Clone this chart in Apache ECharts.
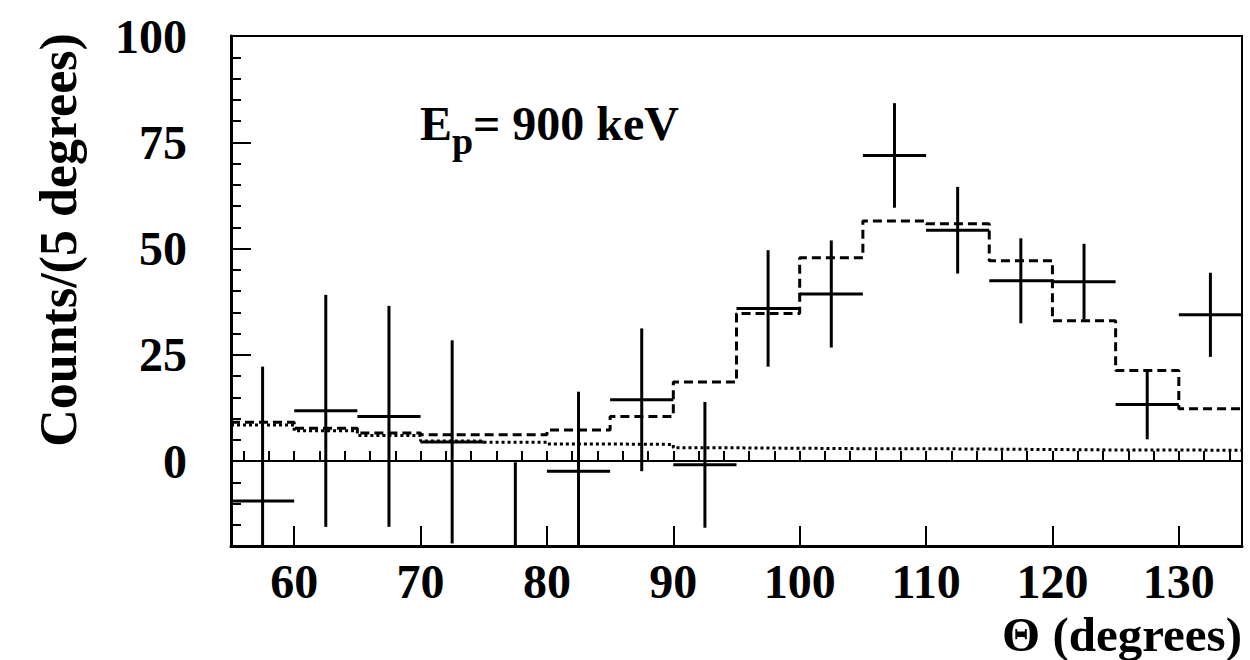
<!DOCTYPE html>
<html>
<head>
<meta charset="utf-8">
<title>Angular distribution, Ep = 900 keV</title>
<script src="https://cdn.jsdelivr.net/npm/echarts@6/dist/echarts.min.js"></script>
<style>
  html, body { margin: 0; padding: 0; background: #fff; }
  #chart { width: 1250px; height: 660px; }
</style>
</head>
<body>
<div id="chart"></div>
<script>
// ---- data -------------------------------------------------------------
// Measured counts per 5-degree bin (bin centres, values, symmetric errors)
const binCenters = [57.5, 62.5, 67.5, 72.5, 77.5, 82.5, 87.5, 92.5,
                    97.5, 102.5, 107.5, 112.5, 117.5, 122.5, 127.5, 132.5];
const counts     = [-9.4, 11.8, 10.5, 4.5, -22.0, -2.4, 14.4, -0.9,
                    35.9, 39.3, 71.9, 54.3, 42.4, 42.2, 13.3, 34.4];
const countErrors = [31.6, 27.3, 26.0, 23.9, 21.7, 18.7, 16.8, 14.8,
                     13.7, 12.6, 12.3, 10.2, 10.0, 8.9, 8.2, 9.9];

// Simulated histograms, one value per bin (left bin edges)
const binEdges   = [55, 60, 65, 70, 75, 80, 85, 90, 95, 100, 105, 110, 115, 120, 125, 130];
const simTotal   = [9.1, 7.7, 6.6, 6.2, 6.2, 7.3, 10.5, 18.6, 34.7, 47.8, 56.5, 55.8, 47.1, 33.0, 21.3, 12.3];
const simBackground = [8.5, 7.1, 6.0, 4.7, 4.4, 4.0, 3.9, 3.1, 3.0, 2.9, 2.9, 2.8, 2.7, 2.6, 2.6, 2.5];

// Axis ranges and tick labels
const binWidth = 5;
const xRange = [55, 135];
const yRange = [-20, 100];
const xTickLabels = [60, 70, 80, 90, 100, 110, 120, 130];
const yTickLabels = [0, 25, 50, 75, 100];

// ---- helpers ----------------------------------------------------------
const FONT = '"Liberation Serif", "DejaVu Serif", serif';

// step-histogram points: each bin edge plus the closing right edge
function histPoints(values) {
  const pts = binEdges.map((e, i) => [e, values[i]]);
  pts.push([binEdges[binEdges.length - 1] + binWidth, values[values.length - 1]]);
  return pts;
}

const xMinorTicks = [];
for (let v = xRange[0] + 1; v < xRange[1]; v += 2) xMinorTicks.push(v);

const errorData = binCenters.map((c, i) => [c, counts[i], countErrors[i]]);

const chart = echarts.init(document.getElementById('chart'), null, { renderer: 'svg' });

const labelStyle = {
  color: '#000', fontFamily: FONT, fontWeight: 'bold', fontSize: 48
};

const option = {
  backgroundColor: '#fff',
  animation: false,
  grid: {
    left: 231, top: 36, width: 1011, height: 510,
    show: true, borderColor: '#000', borderWidth: 2, backgroundColor: 'transparent'
  },
  xAxis: [
    {
      type: 'value', min: xRange[0], max: xRange[1], position: 'bottom',
      axisLine: { show: true, onZero: false, lineStyle: { color: '#000', width: 3 } },
      axisTick: { show: true, inside: true, length: 20, customValues: xTickLabels,
                  lineStyle: { color: '#000', width: 2 } },
      axisLabel: Object.assign({ customValues: xTickLabels, margin: 11 }, labelStyle),
      splitLine: { show: false }
    },
    {
      type: 'value', min: xRange[0], max: xRange[1], position: 'bottom',
      axisLine: { show: false },
      axisTick: { show: true, inside: true, length: 10, customValues: xMinorTicks,
                  lineStyle: { color: '#000', width: 2 } },
      axisLabel: { show: false },
      splitLine: { show: false }
    }
  ],
  yAxis: [
    {
      type: 'value', min: yRange[0], max: yRange[1], position: 'left',
      axisLine: { show: true, onZero: false, lineStyle: { color: '#000', width: 3 } },
      axisTick: { show: true, inside: true, length: 20, customValues: yTickLabels,
                  lineStyle: { color: '#000', width: 2 } },
      axisLabel: Object.assign({ customValues: yTickLabels, margin: 44 }, labelStyle),
      splitLine: { show: false }
    },
    {
      type: 'value', min: yRange[0], max: yRange[1], interval: 5, position: 'left',
      axisLine: { show: false },
      axisTick: { show: true, inside: true, length: 10, lineStyle: { color: '#000', width: 2 } },
      axisLabel: { show: false },
      splitLine: { show: false }
    }
  ],
  series: [
    {
      // background-only simulation (dotted) plus the zero reference line
      name: 'background',
      type: 'line', step: 'end', xAxisIndex: 0, yAxisIndex: 0,
      data: histPoints(simBackground),
      symbol: 'none', silent: true,
      lineStyle: { color: '#000', width: 3, type: [3, 3] },
      markLine: {
        silent: true, symbol: ['none', 'none'], label: { show: false },
        lineStyle: { color: '#000', width: 2, type: 'solid' },
        data: [{ yAxis: 0 }]
      },
      z: 2
    },
    {
      // full simulation (dashed)
      name: 'simulation',
      type: 'line', step: 'end', xAxisIndex: 0, yAxisIndex: 0,
      data: histPoints(simTotal),
      symbol: 'none', silent: true,
      lineStyle: { color: '#000', width: 3, type: [9, 5] },
      z: 3
    },
    {
      // measured points: horizontal bar spans the bin, vertical bar the error
      name: 'data',
      type: 'custom', xAxisIndex: 0, yAxisIndex: 0,
      data: errorData,
      encode: { x: 0, y: 1 },
      z: 4,
      renderItem: function (params, api) {
        const x = api.value(0), y = api.value(1), e = api.value(2);
        const clamp = v => Math.max(yRange[0], Math.min(yRange[1], v));
        const style = { stroke: '#000', lineWidth: 3 };
        const children = [];
        if (y >= yRange[0] && y <= yRange[1]) {
          const l = api.coord([x - binWidth / 2, y]);
          const r = api.coord([x + binWidth / 2, y]);
          children.push({ type: 'line', shape: { x1: l[0], y1: l[1], x2: r[0], y2: r[1] }, style: style });
        }
        const lo = clamp(y - e), hi = clamp(y + e);
        if (hi > lo) {
          const b = api.coord([x, lo]);
          const t = api.coord([x, hi]);
          children.push({ type: 'line', shape: { x1: b[0], y1: b[1], x2: t[0], y2: t[1] }, style: style });
        }
        return { type: 'group', children: children };
      }
    }
  ],
  graphic: [
    {
      type: 'text', x: 58, y: 240, rotation: Math.PI / 2,
      style: { text: 'Counts/(5 degrees)', fontFamily: FONT, fontWeight: 'bold', fontSize: 52,
               fill: '#000', align: 'center', verticalAlign: 'middle' }
    },
    {
      type: 'text', x: 1242, y: 634,
      style: { text: 'Θ (degrees)', fontFamily: FONT, fontWeight: 'bold', fontSize: 49,
               fill: '#000', align: 'right', verticalAlign: 'middle' }
    },
    {
      type: 'text', x: 420, y: 123,
      style: { text: 'E', fontFamily: FONT, fontWeight: 'bold', fontSize: 48,
               fill: '#000', align: 'left', verticalAlign: 'middle' }
    },
    {
      type: 'text', x: 452, y: 141,
      style: { text: 'p', fontFamily: FONT, fontWeight: 'bold', fontSize: 38,
               fill: '#000', align: 'left', verticalAlign: 'middle' }
    },
    {
      type: 'text', x: 473, y: 123,
      style: { text: '= 900 keV', fontFamily: FONT, fontWeight: 'bold', fontSize: 48,
               fill: '#000', align: 'left', verticalAlign: 'middle' }
    }
  ]
};

chart.setOption(option);
</script>
</body>
</html>
